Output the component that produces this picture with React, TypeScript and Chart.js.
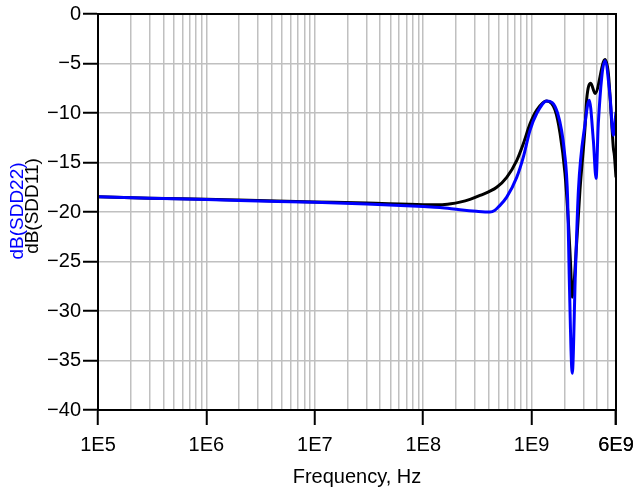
import React, { useEffect, useRef } from "react";
import { Chart, registerables } from "chart.js";

Chart.register(...registerables);

// ---- data ----
const sdd11Freq = [1e5, 3e5, 1e6, 2e6, 1e7, 3e7, 1e8, 1.43e8, 1.8e8, 2.18e8, 2.7e8, 3.34e8, 4.76e8, 5.89e8, 7.28e8, 8.38e8, 9.66e8, 1.114e9, 1.377e9, 1.644e9, 1.828e9, 2.03e9, 2.18e9, 2.28e9, 2.37e9, 2.61e9, 2.79e9, 3.11e9, 3.22e9, 3.51e9, 3.85e9, 4.75e9, 5.1e9, 5.48e9, 5.67e9, 5.8e9, 6e9];
const sdd11Db = [-18.45, -18.6, -18.72, -18.8, -18.98, -19.1, -19.26, -19.27, -19.17, -19.0, -18.72, -18.33, -17.5, -16.5, -14.8, -13.1, -11.1, -9.7, -8.78, -9.7, -12.05, -16.1, -20.9, -25.0, -28.6, -22.9, -17.8, -11.4, -8.6, -7.0, -8.03, -4.59, -6.0, -11.07, -13.5, -14.3, -16.5];

const sdd22Freq = [1e5, 3e5, 1e6, 2e6, 1e7, 3e7, 1e8, 1.43e8, 2.18e8, 3.1e8, 4.13e8, 4.55e8, 4.93e8, 5.89e8, 7.28e8, 8.38e8, 9.66e8, 1.114e9, 1.377e9, 1.74e9, 2.0e9, 2.15e9, 2.22e9, 2.37e9, 2.53e9, 2.7e9, 3.11e9, 3.4e9, 3.71e9, 3.93e9, 4.12e9, 4.75e9, 5.29e9, 5.67e9, 6e9];
const sdd22Db = [-18.45, -18.6, -18.73, -18.85, -19.02, -19.2, -19.45, -19.55, -19.78, -19.93, -20.0, -19.85, -19.5, -18.5, -16.5, -14.45, -11.75, -10.05, -8.78, -10.05, -13.8, -18.8, -26.3, -36.3, -26.3, -17.8, -11.07, -8.7, -12.8, -16.6, -11.07, -4.73, -8.37, -12.25, -9.9];

const xLabelValues = [1e5, 1e6, 1e7, 1e8, 1e9, 6e9];
const xLabels = ["1E5", "1E6", "1E7", "1E8", "1E9", "6E9"];
const xDecades = [1e5, 1e6, 1e7, 1e8, 1e9];
const xMinorMultipliers = [1, 2, 3, 4, 5, 6, 7, 8, 9];

const yTickValues = [0, -5, -10, -15, -20, -25, -30, -35, -40];
const yTickLabels = ["0", "\u22125", "\u221210", "\u221215", "\u221220", "\u221225", "\u221230", "\u221235", "\u221240"];

const xTitle = "Frequency, Hz";
const sdd11Name = "dB(SDD11)";
const sdd22Name = "dB(SDD22)";

const FONT = "'Liberation Sans', Arial, Helvetica, sans-serif";
const BLUE = "#0000ff";

const gridValues: number[] = [];
xDecades.forEach((d) =>
  xMinorMultipliers.forEach((m) => {
    const v = d * m;
    if (v <= 6e9 + 1) gridValues.push(v);
  })
);
gridValues.push(6e9);

const isLabeled = (v: number) => xLabelValues.some((l) => Math.abs(l - v) / l < 1e-6);

const framePlugin = {
  id: "frameAndTitles",
  afterDraw(chart: any) {
    const { ctx, chartArea } = chart;
    const { left, top, right, bottom } = chartArea;
    ctx.save();
    ctx.strokeStyle = "#000";
    ctx.lineWidth = 2;
    ctx.strokeRect(left, top, right - left, bottom - top);

    ctx.font = `20px ${FONT}`;
    ctx.textAlign = "center";
    ctx.textBaseline = "alphabetic";
    ctx.fillStyle = "#000";
    ctx.fillText(xTitle, (left + right) / 2, 483);

    ctx.font = `19px ${FONT}`;
    ctx.textBaseline = "middle";
    ctx.save();
    ctx.translate(18, 211);
    ctx.rotate(-Math.PI / 2);
    ctx.fillStyle = BLUE;
    ctx.fillText(sdd22Name, 0, 0);
    ctx.restore();

    ctx.save();
    ctx.translate(33, 206);
    ctx.rotate(-Math.PI / 2);
    ctx.fillStyle = "#000";
    ctx.fillText(sdd11Name, 0, 0);
    ctx.restore();

    ctx.restore();
  },
};

export default function App() {
  const canvasRef = useRef<HTMLCanvasElement | null>(null);

  useEffect(() => {
    if (!canvasRef.current) return;
    const chart = new Chart(canvasRef.current, {
      type: "line",
      data: {
        datasets: [
          {
            label: sdd22Name,
            data: sdd22Freq.map((f, i) => ({ x: f, y: sdd22Db[i] })),
            borderColor: BLUE,
            borderWidth: 3,
            pointRadius: 0,
            cubicInterpolationMode: "monotone",
            order: 0,
          },
          {
            label: sdd11Name,
            data: sdd11Freq.map((f, i) => ({ x: f, y: sdd11Db[i] })),
            borderColor: "#000",
            borderWidth: 3,
            pointRadius: 0,
            cubicInterpolationMode: "monotone",
            order: 1,
          },
        ],
      },
      options: {
        animation: false,
        responsive: true,
        maintainAspectRatio: false,
        layout: { padding: { left: 0, top: 14, right: 23, bottom: 0 } },
        plugins: { legend: { display: false }, tooltip: { enabled: false } },
        scales: {
          x: {
            type: "logarithmic",
            min: 1e5,
            max: 6e9,
            afterBuildTicks: (scale: any) => {
              scale.ticks = gridValues.map((v) => ({ value: v }));
            },
            afterFit: (scale: any) => {
              scale.height = 491 - 410;
              scale.paddingLeft = 0;
              scale.paddingRight = 0;
            },
            grid: {
              color: "#c0c0c0",
              lineWidth: 1.5,
              drawTicks: true,
              tickLength: 15,
              tickWidth: 2,
              tickColor: (ctx: any) => (ctx.tick && isLabeled(ctx.tick.value) ? "#000" : "rgba(0,0,0,0)"),
            },
            border: { color: "#000", width: 2 },
            ticks: {
              autoSkip: false,
              maxRotation: 0,
              minRotation: 0,
              padding: 8,
              color: "#000",
              font: { family: FONT, size: 20 },
              callback: (value: any) => {
                const idx = xLabelValues.findIndex((l) => Math.abs(l - Number(value)) / l < 1e-6);
                return idx >= 0 ? xLabels[idx] : "";
              },
            },
          },
          y: {
            type: "linear",
            min: -40,
            max: 0,
            afterBuildTicks: (scale: any) => {
              scale.ticks = yTickValues.map((v) => ({ value: v }));
            },
            afterFit: (scale: any) => {
              scale.width = 98;
              scale.paddingTop = 0;
              scale.paddingBottom = 0;
            },
            grid: {
              color: "#c0c0c0",
              lineWidth: 1.5,
              drawTicks: true,
              tickLength: 15,
              tickWidth: 2,
              tickColor: "#000",
            },
            border: { color: "#000", width: 2 },
            ticks: {
              padding: 2,
              color: "#000",
              font: { family: FONT, size: 20 },
              callback: (value: any) => {
                const idx = yTickValues.indexOf(Number(value));
                return idx >= 0 ? yTickLabels[idx] : "";
              },
            },
          },
        },
      },
      plugins: [framePlugin],
    });
    return () => chart.destroy();
  }, []);

  return (
    <div style={{ position: "fixed", left: 0, top: 0, width: 639, height: 491, background: "#fff" }}>
      <canvas ref={canvasRef} />
    </div>
  );
}
